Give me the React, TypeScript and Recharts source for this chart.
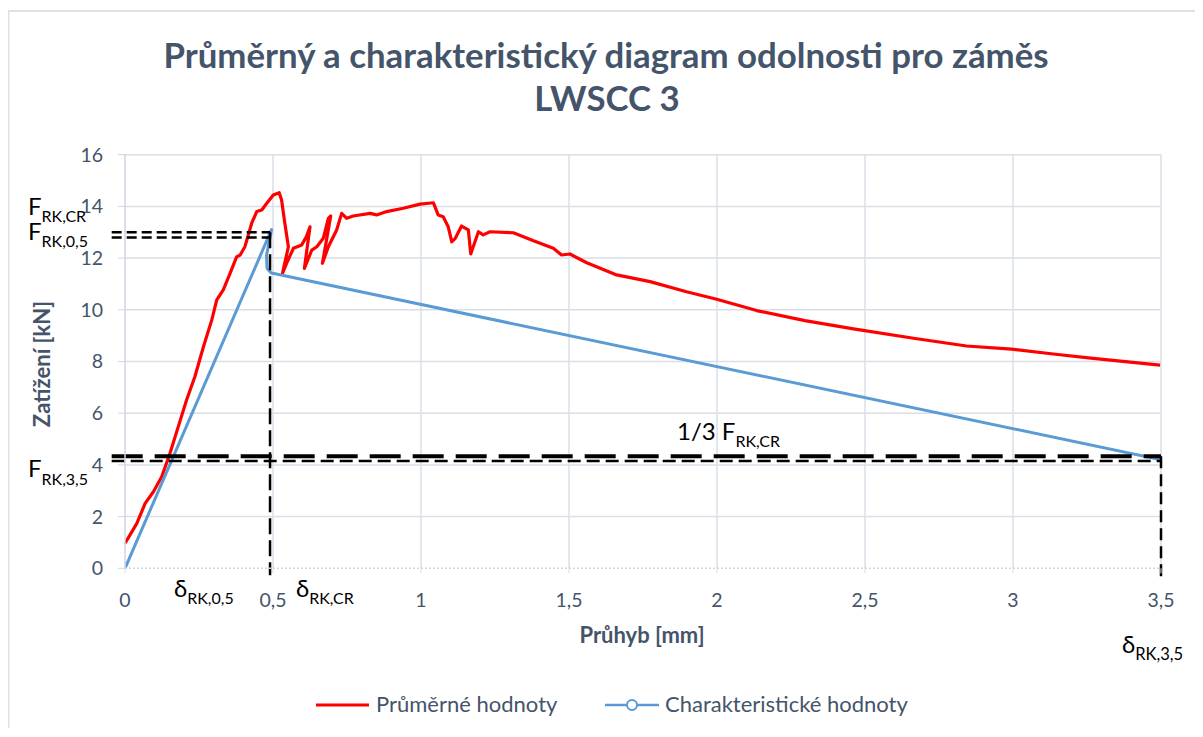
import React from 'react';
import { LineChart, Line, XAxis, YAxis, CartesianGrid, ReferenceLine } from 'recharts';

// Průměrné hodnoty (average) – deflection [mm] / load [kN]
const avgX = [0, 0.017, 0.04, 0.068, 0.096, 0.124, 0.152, 0.18, 0.208, 0.236, 0.265, 0.293, 0.31, 0.332, 0.355, 0.377, 0.389, 0.405, 0.428, 0.445, 0.462, 0.479, 0.501, 0.521, 0.529, 0.54, 0.552, 0.532, 0.546, 0.569, 0.597, 0.613, 0.625, 0.606, 0.631, 0.648, 0.67, 0.687, 0.695, 0.667, 0.687, 0.715, 0.732, 0.749, 0.771, 0.828, 0.85, 0.884, 0.94, 0.997, 1.042, 1.047, 1.058, 1.075, 1.092, 1.104, 1.115, 1.137, 1.16, 1.168, 1.194, 1.21, 1.233, 1.312, 1.38, 1.447, 1.475, 1.503, 1.56, 1.661, 1.774, 1.897, 1.999, 2.134, 2.297, 2.461, 2.664, 2.843, 2.995, 3.136, 3.271, 3.497];
const avgY = [0.97, 1.29, 1.74, 2.51, 2.96, 3.54, 4.45, 5.48, 6.51, 7.41, 8.57, 9.6, 10.38, 10.77, 11.41, 12.05, 12.12, 12.44, 13.35, 13.8, 13.86, 14.12, 14.44, 14.53, 14.25, 13.35, 12.44, 11.41, 11.8, 12.38, 12.51, 12.83, 13.21, 11.6, 12.31, 12.44, 12.77, 13.54, 13.63, 11.8, 12.44, 13.09, 13.73, 13.54, 13.63, 13.73, 13.67, 13.8, 13.93, 14.09, 14.14, 13.99, 13.67, 13.6, 13.21, 12.63, 12.75, 13.24, 13.09, 12.16, 13.02, 12.9, 13.02, 12.98, 12.67, 12.38, 12.12, 12.16, 11.82, 11.35, 11.09, 10.7, 10.41, 9.97, 9.58, 9.26, 8.9, 8.6, 8.48, 8.29, 8.12, 7.86];

// Charakteristické hodnoty (characteristic)
const charX = [0, 0.495, 0.478, 0.48, 0.495, 3.5];
const charY = [0, 13.1, 12.1, 11.6, 11.42, 4.2];

const xTicks = [0, 0.5, 1, 1.5, 2, 2.5, 3, 3.5];
const yTicks = [0, 2, 4, 6, 8, 10, 12, 14, 16];
const gridX = [0.5, 1, 1.5, 2, 2.5, 3, 3.5];
const gridY = [2, 4, 6, 8, 10, 12, 14, 16];

// Key values for the annotation lines
const F_CR = 13.0;
const F_05 = 12.8;
const D_CR = 0.49;
const F_THIRD = 4.33;
const F_35 = 4.15;
const D_35 = 3.5;
const X_LEFT = -0.045;
const Y_LOW_CR = -0.27;
const Y_LOW_35 = -0.52;

const avgData = avgX.map((x, i) => ({ x, y: avgY[i] }));
const charData = charX.map((x, i) => ({ x, y: charY[i] }));

const FONT = 'Lato, "Open Sans", sans-serif';
const SLATE = '#44546a';
const GRID = '#d9dee7';

const fmt = (v: number) => String(v).replace('.', ',');

export default function App() {
  return (
    <div style={{ position: 'relative', width: 1187, height: 720, fontFamily: FONT }}>
      <svg
        width={1203}
        height={737}
        style={{ position: 'absolute', left: -8, top: -8, pointerEvents: 'none' }}
      >
        <rect x={8.5} y={11} width={1400} height={900} fill="#fff" stroke="#dde1e8" strokeWidth={2} />
      </svg>
      <LineChart
        width={1187}
        height={720}
        margin={{ top: 146.7, right: 34, left: 57, bottom: 129.7 }}
        style={{ position: 'absolute', left: 0, top: 0 }}
      >
        <CartesianGrid stroke={GRID} strokeWidth={1.5} horizontalValues={gridY} verticalValues={gridX} />
        <XAxis
          type="number"
          dataKey="x"
          domain={[0, 3.5]}
          ticks={xTicks}
          allowDataOverflow
          height={30}
          tickFormatter={fmt}
          axisLine={{ stroke: '#cfd5df', strokeDasharray: '2 2', strokeWidth: 1.5 }}
          tickLine={{ stroke: GRID }}
          tickSize={5}
          tickMargin={20}
          tick={{ fill: SLATE, fontSize: 19.5, fontFamily: FONT }}
        />
        <YAxis
          type="number"
          dataKey="y"
          domain={[0, 16]}
          ticks={yTicks}
          allowDataOverflow
          width={60}
          tickFormatter={fmt}
          axisLine={{ stroke: '#cfd5df', strokeWidth: 1.5 }}
          tickLine={{ stroke: '#cfd5df' }}
          tickSize={7}
          tickMargin={15}
          tick={{ fill: SLATE, fontSize: 19.5, fontFamily: FONT }}
        />
        <Line
          data={avgData}
          dataKey="y"
          type="linear"
          stroke="#ff0000"
          strokeWidth={3.2}
          dot={false}
          isAnimationActive={false}
          strokeLinejoin="round"
        />
        <Line
          data={charData}
          dataKey="y"
          type="linear"
          stroke="#5b9bd5"
          strokeWidth={3}
          dot={false}
          isAnimationActive={false}
          strokeLinejoin="round"
        />
        <ReferenceLine
          segment={[{ x: X_LEFT, y: F_CR }, { x: D_CR, y: F_CR }]}
          ifOverflow="visible"
          stroke="#000"
          strokeWidth={2.5}
          strokeDasharray="10 5"
        />
        <ReferenceLine
          segment={[{ x: X_LEFT, y: F_05 }, { x: D_CR, y: F_05 }]}
          ifOverflow="visible"
          stroke="#000"
          strokeWidth={2.5}
          strokeDasharray="10 5"
        />
        <ReferenceLine
          segment={[{ x: D_CR, y: F_CR }, { x: D_CR, y: Y_LOW_CR }]}
          ifOverflow="visible"
          stroke="#000"
          strokeWidth={2.5}
          strokeDasharray="16 6"
        />
        <ReferenceLine
          segment={[{ x: X_LEFT, y: F_THIRD }, { x: D_35, y: F_THIRD }]}
          ifOverflow="visible"
          stroke="#000"
          strokeWidth={4}
          strokeDasharray="31 12"
        />
        <ReferenceLine
          segment={[{ x: X_LEFT, y: F_35 }, { x: D_35, y: F_35 }]}
          ifOverflow="visible"
          stroke="#000"
          strokeWidth={2.5}
          strokeDasharray="13 6"
        />
        <ReferenceLine
          segment={[{ x: D_35, y: F_THIRD }, { x: D_35, y: Y_LOW_35 }]}
          ifOverflow="visible"
          stroke="#000"
          strokeWidth={2.5}
          strokeDasharray="12 6"
        />
      </LineChart>
      <svg
        width={1203}
        height={737}
        style={{ position: 'absolute', left: -8, top: -8, pointerEvents: 'none' }}
        fontFamily={FONT}
      >
        <text x={606} y={68} textAnchor="middle" fontSize={34.8} fontWeight={700} fill={SLATE}>
          Průměrný a charakteristický diagram odolnosti pro záměs
        </text>
        <text x={607} y={111} textAnchor="middle" fontSize={34.8} fontWeight={700} fill={SLATE}>
          LWSCC 3
        </text>
        <text x={642} y={643} textAnchor="middle" fontSize={22} fontWeight={700} fill={SLATE}>
          Průhyb [mm]
        </text>
        <text
          x={50}
          y={364}
          textAnchor="middle"
          fontSize={22}
          fontWeight={700}
          fill={SLATE}
          transform="rotate(-90 50 364)"
        >
          Zatížení [kN]
        </text>

        <g fill="#000">
          <text x={28} y={215} fontSize={24}>
            F<tspan fontSize={16} dy={7}>RK,CR</tspan>
          </text>
          <text x={28} y={240} fontSize={24}>
            F<tspan fontSize={16} dy={7}>RK,0,5</tspan>
          </text>
          <text x={28} y={477} fontSize={24}>
            F<tspan fontSize={16} dy={8}>RK,3,5</tspan>
          </text>
          <text x={174} y={597} fontSize={24}>
            δ<tspan fontSize={16} dy={7}>RK,0,5</tspan>
          </text>
          <text x={296} y={597} fontSize={24}>
            δ<tspan fontSize={16} dy={7}>RK,CR</tspan>
          </text>
          <text x={677} y={440} fontSize={24}>
            1/3 F<tspan fontSize={16} dy={7}>RK,CR</tspan>
          </text>
          <text x={1122} y={653} fontSize={24}>
            δ<tspan fontSize={16.5} dy={7}>RK,3,5</tspan>
          </text>
        </g>

        <line x1={316} y1={705} x2={369} y2={705} stroke="#ff0000" strokeWidth={3} />
        <text x={376} y={712} fontSize={22} fill={SLATE}>
          Průměrné hodnoty
        </text>
        <line x1={605} y1={705} x2={659} y2={705} stroke="#5b9bd5" strokeWidth={2.5} />
        <circle cx={632} cy={705} r={5} fill="#fff" stroke="#5b9bd5" strokeWidth={2} />
        <text x={665} y={712} fontSize={22} fill={SLATE}>
          Charakteristické hodnoty
        </text>
      </svg>
    </div>
  );
}
